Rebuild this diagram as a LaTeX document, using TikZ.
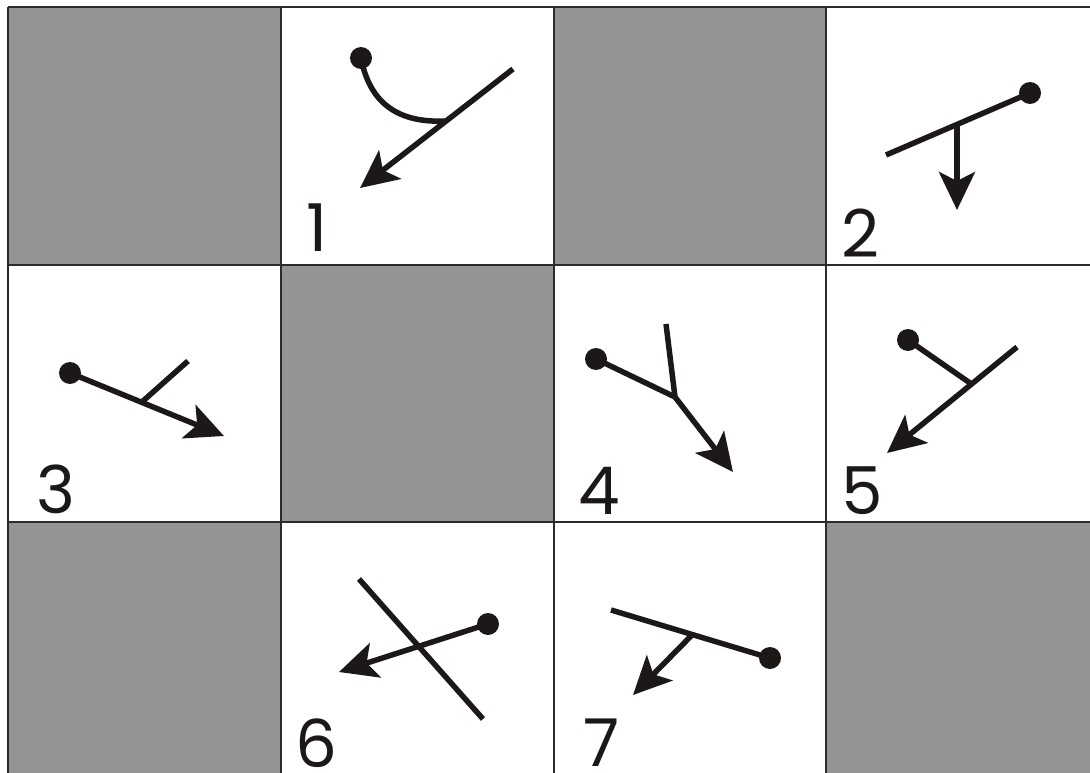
\documentclass[tikz,border=0pt]{standalone}
\usepackage{fontspec}
\setmainfont{Poppins}
\usepackage{tikz}
\usetikzlibrary{arrows.meta}
\definecolor{cellgray}{RGB}{150,148,146}
\definecolor{gridline}{RGB}{45,42,42}
\definecolor{ink}{RGB}{28,24,24}

\begin{document}
\begin{tikzpicture}[x=1pt, y=-1pt,
  stroke/.style={draw=ink, line width=5.5pt},
  arr/.style={stroke, -{Stealth[length=38pt, width=36pt, inset=9pt]}},
  dot/.style={circle, fill=ink, minimum size=22pt, inner sep=0pt},
  num/.style={font=\fontsize{66}{66}\selectfont, text=ink, anchor=base west, inner sep=0pt}
]
  \useasboundingbox (0,0) rectangle (1090,773);

  % grey cells
  \fill[cellgray] (8,7)     rectangle (281,265);
  \fill[cellgray] (554,7)   rectangle (826,265);
  \fill[cellgray] (281,265) rectangle (554,522);
  \fill[cellgray] (8,522)   rectangle (281,790);
  \fill[cellgray] (826,522) rectangle (1100,790);

  % grid
  \foreach \x in {8,281,554,826}
    \draw[gridline, line width=1.3pt] (\x,7) -- (\x,790);
  \foreach \y in {7,265,522}
    \draw[gridline, line width=1.3pt] (8,\y) -- (1100,\y);

  % cell 1
  \node[dot] (d1) at (361,58) {};
  \coordinate (j1) at (445,121);
  \coordinate (s1) at (513,69);
  \coordinate (t1) at (360,188);
  \draw[stroke] (d1.center) .. controls (370,105) and (400,123) .. (j1);
  \draw[arr] (s1) -- (t1);
  \node[num] (n1) at (306,251) {1};

  % cell 2
  \node[dot] (d2) at (1030,93) {};
  \coordinate (s2) at (886,155);
  \coordinate (j2) at (957,124);
  \coordinate (t2) at (957,210);
  \draw[stroke] (s2) -- (d2.center);
  \draw[arr] (j2) -- (t2);
  \node[num] (n2) at (841,257) {2};

  % cell 3
  \node[dot] (d3) at (70,373) {};
  \coordinate (j3) at (143,401);
  \coordinate (b3) at (188,361);
  \coordinate (t3) at (224,436);
  \draw[arr] (d3.center) -- (t3);
  \draw[stroke] (j3) -- (b3);
  \node[num] (n3) at (36,513) {3};

  % cell 4
  \node[dot] (d4) at (596,359) {};
  \coordinate (j4) at (675,397);
  \coordinate (b4) at (666,324);
  \coordinate (t4) at (733,472);
  \draw[stroke] (d4.center) -- (j4);
  \draw[stroke] (b4) -- (j4);
  \draw[arr] (j4) -- (t4);
  \node[num] (n4) at (578,514) {4};

  % cell 5
  \node[dot] (d5) at (908,340) {};
  \coordinate (j5) at (970,383);
  \coordinate (s5) at (1017,347);
  \coordinate (t5) at (887,453);
  \draw[stroke] (d5.center) -- (j5);
  \draw[arr] (s5) -- (t5);
  \node[num] (n5) at (841,514) {5};

  % cell 6
  \node[dot] (d6) at (488,624) {};
  \coordinate (a6) at (359,579);
  \coordinate (b6) at (483,719);
  \coordinate (t6) at (339,672);
  \draw[stroke] (a6) -- (b6);
  \draw[arr] (d6.center) -- (t6);
  \node[num] (n6) at (295,767) {6};

  % cell 7
  \node[dot] (d7) at (770,658) {};
  \coordinate (s7) at (611,610);
  \coordinate (j7) at (692,635);
  \coordinate (t7) at (633,695);
  \draw[stroke] (s7) -- (d7.center);
  \draw[arr] (j7) -- (t7);
  \node[num] (n7) at (583,766) {7};
\end{tikzpicture}
\end{document}
